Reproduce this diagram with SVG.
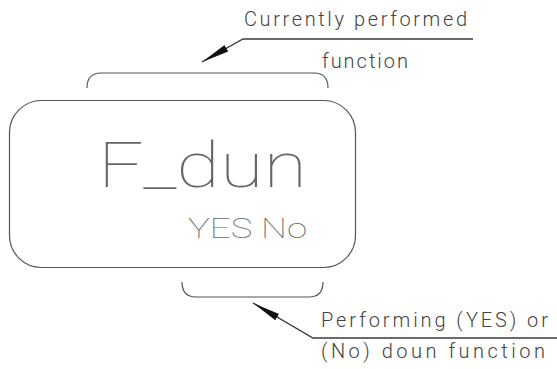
<svg xmlns="http://www.w3.org/2000/svg" width="557" height="369" viewBox="0 0 557 369">
  <style>
    .ln { fill: none; stroke: #3a3a3a; stroke-width: 1.3; }
    .br { fill: none; stroke: #555; stroke-width: 1.2; }
    .t { font-family: Roboto, "Liberation Sans", Arial, sans-serif; font-weight: 300; fill: #444; }
    .big { font-family: Roboto, "Liberation Sans", sans-serif; font-weight: 100; fill: #666; }
  </style>
  <defs>
    <marker id="ah" markerUnits="userSpaceOnUse" markerWidth="30" markerHeight="10" refX="28" refY="5" orient="auto" viewBox="0 0 30 10">
      <path d="M28,5 L0,1.3 L0,8.7 Z" fill="#111"/>
    </marker>
  </defs>
  <rect width="557" height="369" fill="#fff"/>

  <g id="main-box">
    <rect x="9.5" y="100.5" width="346" height="167" rx="32" ry="32" class="br"/>
    <text class="big" x="98" y="187" font-size="63" textLength="209" lengthAdjust="spacingAndGlyphs">F_dun</text>
    <text class="big" x="188" y="238" font-size="28" textLength="119" lengthAdjust="spacingAndGlyphs">YES No</text>
  </g>

  <g id="top-bracket">
    <path class="br" d="M87,88 Q87,73 101,73 L314,73 Q328,73 328,88"/>
  </g>

  <g id="bottom-bracket">
    <path class="br" d="M182,282 Q182,297 196,297 L309,297 Q323,297 323,282"/>
  </g>

  <g id="label-top">
    <text class="t" x="244" y="26" font-size="20" textLength="223" lengthAdjust="spacing">Currently performed</text>
    <text class="t" x="322" y="68" font-size="20" textLength="86" lengthAdjust="spacing">function</text>
  </g>

  <g id="label-bottom">
    <text class="t" x="321" y="327" font-size="20" textLength="227" lengthAdjust="spacing">Performing (YES) or</text>
    <text class="t" x="321" y="358" font-size="20" textLength="224" lengthAdjust="spacing">(No) doun function</text>
  </g>

  <g id="connectors">
    <path class="ln" d="M473,39 L243,39 L202,62" marker-end="url(#ah)"/>
    <path class="ln" d="M557,338 L313,338 L253,303" marker-end="url(#ah)"/>
  </g>
</svg>
